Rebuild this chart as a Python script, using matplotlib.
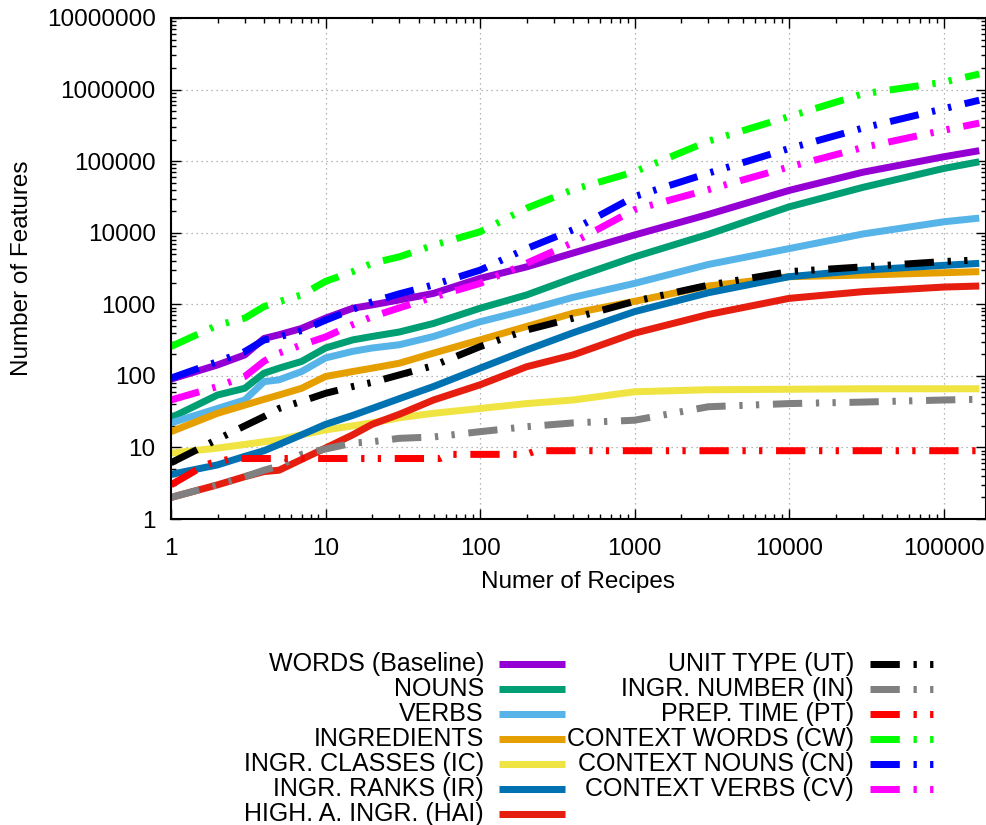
import matplotlib
matplotlib.use("Agg")
import matplotlib.pyplot as plt
from matplotlib.lines import Line2D
from matplotlib.ticker import FixedLocator, FixedFormatter, LogLocator, NullFormatter

plt.rcParams['font.family'] = ['Liberation Sans', 'DejaVu Sans']

# ---------------- data ----------------
x_common = [1, 2, 3, 4, 5, 7, 10, 15, 20, 30, 50, 100, 200, 400, 1000, 3000, 10000, 30000, 100000, 170000]

words = [90, 142, 196, 333, 375, 460, 640, 880, 980, 1150, 1420, 2300, 3330, 5200, 9300, 18000, 39000, 70000, 115000, 140000]
nouns = [26, 54, 67, 109, 128, 159, 245, 318, 355, 410, 540, 880, 1350, 2330, 4600, 9500, 23000, 43000, 79000, 98000]
verbs = [22, 35, 46, 83, 88, 115, 178, 220, 245, 272, 355, 570, 830, 1250, 1960, 3600, 6000, 9600, 14200, 16000]
ingredients = [16.6, 30, 39, 47, 54, 67, 98, 115, 128, 150, 208, 318, 490, 750, 1100, 1800, 2430, 2560, 2760, 2860]
ingr_classes = [8.3, 9.8, 11, 12, 12.8, 15, 17.6, 20, 22, 26, 30, 35, 41, 46, 60, 64, 65, 66, 66, 66]
ingr_ranks = [4.2, 5.7, 7.5, 9, 11, 15, 21, 28, 35, 48, 71, 128, 230, 400, 790, 1450, 2430, 3000, 3500, 3730]
high_a_ingr = [2, 3.0, 3.9, 4.6, 4.8, 6.8, 9.8, 15, 21, 29, 46, 75, 134, 196, 395, 720, 1210, 1500, 1740, 1800]
unit_type = [6.1, 13, 20, 27, 35, 44, 57, 71, 81, 103, 139, 256, 437, 640, 1100, 1850, 2860, 3330, 3960, 4170]
ingr_number = [2, 3.0, 3.9, 4.8, 5.5, 8, 9.5, 11.5, 12, 13.4, 14, 16.6, 19.5, 22, 24, 37, 41, 43, 46, 47]
context_words = [257, 510, 640, 930, 1090, 1350, 2090, 2860, 3740, 4600, 6700, 10300, 22000, 40000, 71000, 190000, 420000, 870000, 1270000, 1650000]
context_nouns = [93, 158, 218, 317, 350, 430, 600, 850, 1080, 1400, 1870, 3000, 6000, 11000, 32000, 68000, 150000, 290000, 540000, 710000]
context_verbs = [46, 71, 98, 160, 208, 270, 350, 520, 670, 890, 1260, 1960, 3740, 7300, 21000, 40000, 83000, 155000, 270000, 340000]

prep_time_x = [1, 1.5, 1.8, 2.5, 55, 62, 200, 230, 170000]
prep_time = [3, 5, 6, 7, 7, 8, 8, 9, 9]

labels_col1 = ["WORDS (Baseline)", "NOUNS", "VERBS", "INGREDIENTS",
               "INGR. CLASSES (IC)", "INGR. RANKS (IR)", "HIGH. A. INGR. (HAI)"]
labels_col2 = ["UNIT TYPE (UT)", "INGR. NUMBER (IN)", "PREP. TIME (PT)",
               "CONTEXT WORDS (CW)", "CONTEXT NOUNS (CN)", "CONTEXT VERBS (CV)"]
colors_col1 = ["#9400d3", "#009e73", "#56b4e9", "#e69f00", "#f0e442", "#0072b2", "#e51e10"]
colors_col2 = ["#000000", "#808080", "#ff0000", "#00ff00", "#0000ff", "#ff00ff"]

xtick_vals = [1, 10, 100, 1000, 10000, 100000]
xtick_labels = ["1", "10", "100", "1000", "10000", "100000"]
ytick_vals = [1, 10, 100, 1000, 10000, 100000, 1000000, 10000000]
ytick_labels = ["1", "10", "100", "1000", "10000", "100000", "1000000", "10000000"]

# ---------------- figure ----------------
W, H = 987, 825
fig = plt.figure(figsize=(W / 100, H / 100), dpi=100)
ax = fig.add_axes([171 / W, 1 - 519 / H, (986 - 171) / W, (519 - 18) / H])

LW_PX = 7
LW = LW_PX * 0.72
def dash_style(px_pattern):
    return (0, tuple(p * 0.72 / LW for p in px_pattern))
DASHDOT = dash_style([29.3, 13.7, 3.3, 13.3, 3.3, 13.7])

series1 = [words, nouns, verbs, ingredients, ingr_classes, ingr_ranks, high_a_ingr]
for ys, c in zip(series1, colors_col1):
    ax.plot(x_common, ys, color=c, lw=LW, solid_joinstyle='round', solid_capstyle='butt')

series2 = [(x_common, unit_type), (x_common, ingr_number), (prep_time_x, prep_time),
           (x_common, context_words), (x_common, context_nouns), (x_common, context_verbs)]
for (xs, ys), c in zip(series2, colors_col2):
    ax.plot(xs, ys, color=c, lw=LW, linestyle=DASHDOT)

ax.set_xscale('log')
ax.set_yscale('log')
ax.set_xlim(1, 188000)
ax.set_ylim(1, 1e7)

ax.xaxis.set_major_locator(FixedLocator(xtick_vals))
ax.xaxis.set_major_formatter(FixedFormatter(xtick_labels))
ax.yaxis.set_major_locator(FixedLocator(ytick_vals))
ax.yaxis.set_major_formatter(FixedFormatter(ytick_labels))
ax.xaxis.set_minor_locator(LogLocator(base=10, subs=(2, 3, 4, 5, 6, 7, 8, 9), numticks=20))
ax.yaxis.set_minor_locator(LogLocator(base=10, subs=(2, 3, 4, 5, 6, 7, 8, 9), numticks=20))
ax.xaxis.set_minor_formatter(NullFormatter())
ax.yaxis.set_minor_formatter(NullFormatter())

ax.tick_params(which='both', direction='in', top=True, right=True, width=1.0, color='black')
ax.tick_params(which='major', length=7.2)
ax.tick_params(which='minor', length=3.6)
ax.tick_params(axis='x', which='major', labelsize=17.5, pad=14)
ax.tick_params(axis='y', which='major', labelsize=17.5, pad=11)

for s in ax.spines.values():
    s.set_linewidth(1.5)

ax.grid(True, which='major', color='#a0a0a0', linestyle=(0, (1, 3)), linewidth=0.9)
ax.set_axisbelow(True)

fig.text(578 / W, 1 - 582 / H, "Numer of Recipes", ha='center', va='center', fontsize=17.5)
fig.text(22 / W, 1 - 268 / H, "Number of Features", ha='center', va='center', rotation=90, fontsize=17.5)

# ---------------- legend (gnuplot style: right-aligned text, sample to the right) ----------------
def legend_col(labels, colors, text_right, x0, x1, styles):
    for i, (lab, c, st) in enumerate(zip(labels, colors, styles)):
        yc = 1 - (664 + 25 * i) / H
        fig.text(text_right / W, yc, lab, ha='right', va='center', fontsize=18)
        fig.add_artist(Line2D([x0 / W, x1 / W], [yc, yc], transform=fig.transFigure,
                              color=c, lw=LW, linestyle=st, solid_capstyle='butt'))

legend_col(labels_col1, colors_col1, 484, 499, 565, ['-'] * 7)
legend_col(labels_col2, colors_col2, 854, 870, 940, [DASHDOT] * 6)

fig.savefig("out.png", dpi=100)
